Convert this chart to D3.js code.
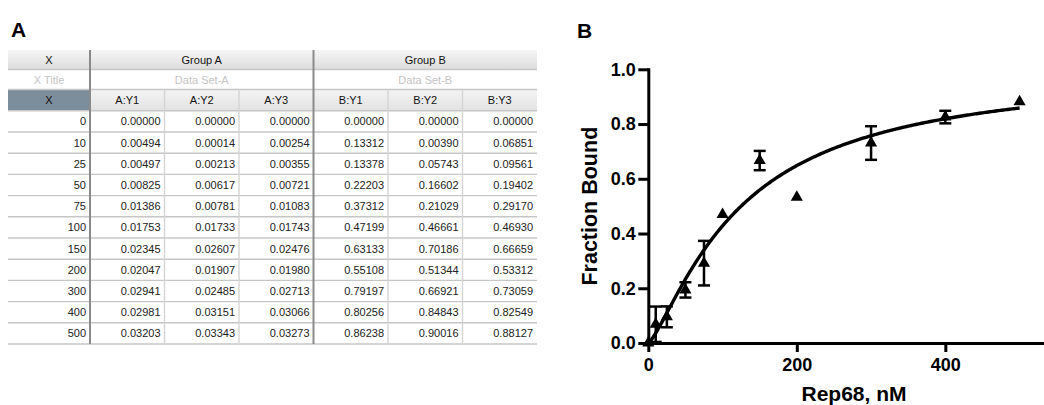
<!DOCTYPE html>
<html><head><meta charset="utf-8">
<script src="https://cdn.jsdelivr.net/npm/d3@7"></script>
<style>
body{margin:0;background:#fff;}
svg{display:block;font-family:"Liberation Sans",Arial,Helvetica,sans-serif;}
</style></head>
<body>
<svg id="chart" width="1044" height="405"></svg>
<script>
// ---------- data ----------
const xValues = [0, 10, 25, 50, 75, 100, 150, 200, 300, 400, 500];
const aY1 = [0.00000, 0.00494, 0.00497, 0.00825, 0.01386, 0.01753, 0.02345, 0.02047, 0.02941, 0.02981, 0.03203];
const aY2 = [0.00000, 0.00014, 0.00213, 0.00617, 0.00781, 0.01733, 0.02607, 0.01907, 0.02485, 0.03151, 0.03343];
const aY3 = [0.00000, 0.00254, 0.00355, 0.00721, 0.01083, 0.01743, 0.02476, 0.01980, 0.02713, 0.03066, 0.03273];
const bY1 = [0.00000, 0.13312, 0.13378, 0.22203, 0.37312, 0.47199, 0.63133, 0.55108, 0.79197, 0.80256, 0.86238];
const bY2 = [0.00000, 0.00390, 0.05743, 0.16602, 0.21029, 0.46661, 0.70186, 0.51344, 0.66921, 0.84843, 0.90016];
const bY3 = [0.00000, 0.06851, 0.09561, 0.19402, 0.29170, 0.46930, 0.66659, 0.53312, 0.73059, 0.82549, 0.88127];
const columnHeaders = ["A:Y1", "A:Y2", "A:Y3", "B:Y1", "B:Y2", "B:Y3"];
const groupTitles = ["Group A", "Group B"];
const dataSetTitles = ["Data Set-A", "Data Set-B"];
const yTickValues = [0, 0.2, 0.4, 0.6, 0.8, 1.0];
const xTickValues = [0, 200, 400];
// fitted binding curve (Hill) parameters
const fitTop = 1.0, fitK = 125, fitHill = 1.3;

// ---------- setup ----------
const svg = d3.select("#chart");
const defs = svg.append("defs");
function grad(id, c1, c2) {
  const g = defs.append("linearGradient").attr("id", id).attr("x1", 0).attr("y1", 0).attr("x2", 0).attr("y2", 1);
  g.append("stop").attr("offset", "0%").attr("stop-color", c1);
  g.append("stop").attr("offset", "100%").attr("stop-color", c2);
}
grad("hdr", "#f6f6f6", "#dcdcdc");
grad("hdr3", "#f4f4f4", "#e2e2e2");

// panel labels
svg.append("text").attr("x", 11).attr("y", 37).attr("font-size", 21).attr("font-weight", "bold").attr("fill", "#000").text("A");
svg.append("text").attr("x", 577).attr("y", 38).attr("font-size", 21).attr("font-weight", "bold").attr("fill", "#000").text("B");

// ---------- table ----------
const tableLeft = 8, xColRight = 90, tableRight = 537;
const colScale = d3.scaleLinear().domain([0, 6]).range([xColRight, tableRight]);
const rowScale = d3.scaleLinear().domain([0, xValues.length]).range([110.8, 344]);
const hdrRows = [50, 69.5, 89.5, 110.8];
const tbl = svg.append("g");
const dataCols = [aY1, aY2, aY3, bY1, bY2, bY3];
const fmt = d3.format(".5f");

tbl.append("rect").attr("x", tableLeft).attr("y", hdrRows[0]).attr("width", tableRight - tableLeft).attr("height", hdrRows[1] - hdrRows[0]).attr("fill", "url(#hdr)");
tbl.append("rect").attr("x", xColRight).attr("y", hdrRows[2]).attr("width", tableRight - xColRight).attr("height", hdrRows[3] - hdrRows[2]).attr("fill", "url(#hdr3)");
tbl.append("rect").attr("x", tableLeft).attr("y", hdrRows[2]).attr("width", xColRight - tableLeft).attr("height", hdrRows[3] - hdrRows[2]).attr("fill", "#7c8d9b");

const hLines = [hdrRows[1], hdrRows[2], hdrRows[3]].concat(d3.range(1, xValues.length + 1).map(i => rowScale(i)));
tbl.selectAll(".hl").data(hLines).join("line")
  .attr("x1", tableLeft).attr("x2", tableRight).attr("y1", d => d).attr("y2", d => d)
  .attr("stroke", "#c6c6c6").attr("stroke-width", 1.4);

tbl.selectAll(".vl").data([1, 2, 4, 5]).join("line")
  .attr("x1", d => colScale(d)).attr("x2", d => colScale(d))
  .attr("y1", hdrRows[2]).attr("y2", rowScale(xValues.length))
  .attr("stroke", "#d4d4d4").attr("stroke-width", 1.4);
tbl.selectAll(".tv").data([0, 3]).join("line")
  .attr("x1", d => colScale(d)).attr("x2", d => colScale(d))
  .attr("y1", hdrRows[0]).attr("y2", rowScale(xValues.length))
  .attr("stroke", "#8a8a8a").attr("stroke-width", 2);

const txt = (x, y, s, anchor, color) => tbl.append("text").attr("x", x).attr("y", y).attr("text-anchor", anchor)
  .attr("font-size", 11).attr("fill", color).text(s);
txt((tableLeft + xColRight) / 2, 63.5, "X", "middle", "#111");
groupTitles.forEach((t, g) => txt((colScale(g * 3) + colScale(g * 3 + 3)) / 2, 63.5, t, "middle", "#111"));
txt((tableLeft + xColRight) / 2, 83.5, "X Title", "middle", "#c4c4c4");
dataSetTitles.forEach((t, g) => txt((colScale(g * 3) + colScale(g * 3 + 3)) / 2, 83.5, t, "middle", "#c4c4c4"));
txt((tableLeft + xColRight) / 2, 104, "X", "middle", "#111");
columnHeaders.forEach((t, i) => txt((colScale(i) + colScale(i + 1)) / 2, 104, t, "middle", "#111"));

xValues.forEach((xv, r) => {
  const yb = (rowScale(r) + rowScale(r + 1)) / 2 + 4;
  txt(xColRight - 4, yb, String(xv), "end", "#222");
  dataCols.forEach((col, c) => txt(colScale(c + 1) - 4, yb, fmt(col[r]), "end", "#222"));
});

// ---------- plot ----------
const x = d3.scaleLinear().domain([0, 550]).range([648.3, 1056.7]);
const y = d3.scaleLinear().domain([0, 1]).range([343, 69.3]);
const plot = svg.append("g");

const yAxis = d3.axisLeft(y).tickValues(yTickValues).tickFormat(d3.format(".1f")).tickSize(10).tickSizeOuter(0).tickPadding(2.5);
const xAxis = d3.axisBottom(x).tickValues(xTickValues).tickFormat(d3.format("d")).tickSize(9).tickSizeOuter(0).tickPadding(6);

const gy = plot.append("g").attr("transform", `translate(${x(0)},0)`).call(yAxis);
const gx = plot.append("g").attr("transform", `translate(0,${y(0)})`).call(xAxis);
[gx, gy].forEach(g => {
  g.select(".domain").attr("stroke", "#000").attr("stroke-width", 3).attr("stroke-linecap", "square");
  g.selectAll(".tick line").attr("stroke", "#000").attr("stroke-width", 3);
  g.selectAll(".tick text").attr("fill", "#000").attr("font-size", 18).attr("font-weight", "bold")
    .attr("font-family", "'Liberation Sans',Arial,sans-serif");
});

plot.append("text").attr("x", 854).attr("y", 401).attr("text-anchor", "middle")
  .attr("font-size", 21).attr("font-weight", "bold").text("Rep68, nM");
plot.append("text").attr("transform", `translate(597,${(y(0) + y(1)) / 2}) rotate(-90)`).attr("text-anchor", "middle")
  .attr("font-size", 21.5).attr("font-weight", "bold").text("Fraction Bound");

const curveX = d3.range(0, 500.01, 2);
const hill = v => fitTop * Math.pow(v, fitHill) / (Math.pow(fitK, fitHill) + Math.pow(v, fitHill));
plot.append("path").datum(curveX)
  .attr("d", d3.line().x(d => x(d)).y(d => y(hill(d))))
  .attr("fill", "none").attr("stroke", "#000").attr("stroke-width", 3.4);

const pts = xValues.map((xv, i) => {
  const reps = [bY1[i], bY2[i], bY3[i]];
  return { x: xv, mean: d3.mean(reps), sd: d3.deviation(reps) };
});
const capW = 12;
const bars = plot.selectAll(".eb").data(pts.filter(p => (y(0) - y(p.sd)) > 6)).join("g");
bars.append("line").attr("x1", d => x(d.x)).attr("x2", d => x(d.x))
  .attr("y1", d => y(d.mean - d.sd)).attr("y2", d => y(d.mean + d.sd))
  .attr("stroke", "#000").attr("stroke-width", 2.5);
bars.append("line").attr("x1", d => x(d.x) - capW / 2).attr("x2", d => x(d.x) + capW / 2)
  .attr("y1", d => y(d.mean + d.sd)).attr("y2", d => y(d.mean + d.sd))
  .attr("stroke", "#000").attr("stroke-width", 2.5);
bars.append("line").attr("x1", d => x(d.x) - capW / 2).attr("x2", d => x(d.x) + capW / 2)
  .attr("y1", d => y(d.mean - d.sd)).attr("y2", d => y(d.mean - d.sd))
  .attr("stroke", "#000").attr("stroke-width", 2.5);

plot.selectAll(".pt").data(pts).join("path")
  .attr("transform", d => `translate(${x(d.x)},${y(d.mean)})`)
  .attr("d", d3.symbol().type(d3.symbolTriangle).size(64))
  .attr("fill", "#000");
</script>
</body></html>
